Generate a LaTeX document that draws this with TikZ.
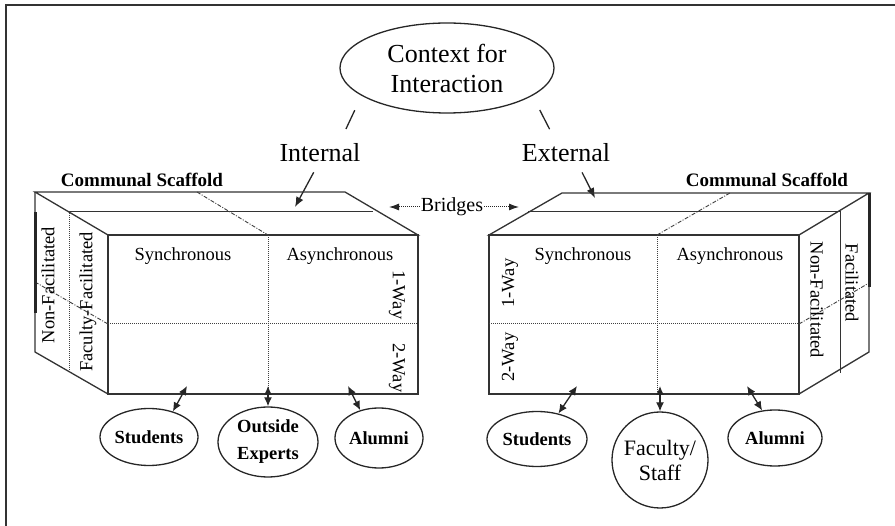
\documentclass[tikz,border=0pt]{standalone}
\usepackage{fontspec}
\setmainfont{Liberation Serif}
\usepackage{tikz}
\usetikzlibrary{arrows.meta,shapes.geometric}

\begin{document}
\begin{tikzpicture}[x=1pt, y=-1pt,
    edge/.style={draw=black!80, line width=1.3pt},
    divide/.style={draw=black!75, line width=1pt, densely dotted},
    slant/.style={draw=black!75, line width=0.9pt, dash pattern=on 4pt off 1.5pt on 1pt off 1.5pt},
    face/.style={font=\fontsize{18.5}{20}\selectfont, inner sep=0pt},
    head/.style={font=\fontsize{26}{30}\selectfont, inner sep=2pt},
    scaffold/.style={font=\fontsize{19}{21}\selectfont\bfseries, inner sep=0pt},
    who/.style={draw=black!85, line width=1.3pt, ellipse, inner sep=0pt, align=center,
                font=\fontsize{18.5}{27}\selectfont\bfseries},
    link/.style={draw=black!85, line width=1.3pt},
    arr/.style={-{Latex[length=10pt,width=8pt]}, link},
    dbl/.style={{Latex[length=9pt,width=8pt]}-{Latex[length=9pt,width=8pt]}, link},
    dotarr/.style={-{Latex[length=10pt,width=7pt]}, draw=black!85, line width=1pt, densely dotted}
  ]
    \useasboundingbox (0,0) rectangle (895,526);
    % Frame
    \draw[black!80, line width=2pt] (6,526) -- (6,5) -- (895,5);
    % Context and its two sides
    \node[who, font=\fontsize{26}{30}\selectfont, minimum width=214pt, minimum height=90pt] (ctx) at (447,68) {Context for\\Interaction};
    \node[head] (int) at (320,153) {Internal};
    \node[head] (ext) at (566,153) {External};
    \draw[link, shorten <=16pt, shorten >=14pt] (ctx.198) -- ([xshift=20pt]int.north);
    \draw[link, shorten <=16pt, shorten >=14pt] (ctx.-18) -- ([xshift=-10pt]ext.north);
    % Labels over the cubes
    \node[scaffold] (lsc) at (142,180) {Communal Scaffold};
    \node[scaffold] (rsc) at (767,180) {Communal Scaffold};
    \node[font=\fontsize{20}{22}\selectfont, inner sep=1pt] (brg) at (452,207) {Bridges};
    \coordinate (lbr) at (389,207);
    \coordinate (rbr) at (519,207);
    \draw[dotarr] (brg.west) -- (lbr);
    \draw[dotarr] (brg.east) -- (rbr);
    \coordinate (ltop) at (295,207);
    \coordinate (rtop) at (595,198);
    \draw[arr, shorten <=9pt] ([xshift=-2pt]int.south) -- (ltop);
    \draw[arr, shorten <=9pt] ([xshift=12pt]ext.south) -- (rtop);

    % Left cube
    \draw[edge] (35,192) -- (345,192) -- (418,235) -- (108,235) -- cycle;
    \draw[edge] (108,235) rectangle (418,394);
    \draw[edge] (35,192) -- (35,352) -- (108,394);
    \draw[edge, line width=0.9pt] (68,211) -- (373,211);
    \draw[divide] (69,211) -- (69,372);
    \draw[divide] (268,235) -- (268,394);
    \draw[divide] (108,324) -- (418,324);
    \draw[slant] (197,192) -- (268,235);
    \draw[slant] (35,282) -- (108,324);
    \draw[black!85, line width=3pt] (35,212) -- (35,313);
    \node[face] (lsyn) at (183,256) {Synchronous};
    \node[face] (lasy) at (340,256) {Asynchronous};
    \node[face, rotate=-90] (l1w) at (397,295) {1-Way};
    \node[face, rotate=-90] (l2w) at (397,368) {2-Way};
    \node[face, rotate=90] (lnf) at (48,285) {Non-Facilitated};
    \node[face, rotate=90] (lff) at (88,302) {Faculty-Facilitated};

    % Right cube
    \draw[edge] (562,193) -- (869,193) -- (799,235) -- (489,235) -- cycle;
    \draw[edge] (489,235) rectangle (799,394);
    \draw[edge] (869,193) -- (869,352) -- (799,394);
    \draw[edge, line width=0.9pt] (528,211) -- (840,211);
    \draw[edge, line width=0.9pt] (840,211) -- (840,373);
    \draw[divide] (657,235) -- (657,394);
    \draw[divide] (489,324) -- (799,324);
    \draw[slant] (657,235) -- (730,193);
    \draw[slant] (799,324) -- (869,283);
    \draw[black!85, line width=3pt] (869,193) -- (869,287);
    \node[face] (rsyn) at (583,256) {Synchronous};
    \node[face] (rasy) at (730,256) {Asynchronous};
    \node[face, rotate=90] (r1w) at (510,283) {1-Way};
    \node[face, rotate=90] (r2w) at (510,357) {2-Way};
    \node[face, rotate=-90] (rnf) at (817,300) {Non-Facilitated};
    \node[face, rotate=-90] (rfa) at (852,283) {Facilitated};

    % Who takes part
    \node[who, minimum width=98pt, minimum height=57pt] (lstu) at (149,437) {Students};
    \node[who, minimum width=100pt, minimum height=70pt] (lout) at (268,442) {Outside\\Experts};
    \node[who, minimum width=88pt, minimum height=60pt] (lalu) at (379,438) {Alumni};
    \node[who, minimum width=100pt, minimum height=55pt] (rstu) at (537,439) {Students};
    \node[who, circle, minimum size=96pt, font=\fontsize{22}{25}\selectfont] (rfac) at (660,460) {Faculty/\\Staff};
    \node[who, minimum width=94pt, minimum height=56pt] (ralu) at (775,438) {Alumni};
    \coordinate (lb1) at (187,386);
    \coordinate (lb2) at (268,386);
    \coordinate (lb3) at (348,386);
    \coordinate (rb1) at (577,386);
    \coordinate (rb2) at (660,386);
    \coordinate (rb3) at (747,386);
    \draw[dbl] (lb1) -- (lstu.47);
    \draw[dbl] (lb2) -- (lout.north);
    \draw[dbl] (lb3) -- (lalu.124);
    \draw[dbl] (rb1) -- (rstu.50);
    \draw[dbl] (rb2) -- (rfac.north);
    \draw[dbl] (rb3) -- (ralu.115);
  \end{tikzpicture}
\end{document}
